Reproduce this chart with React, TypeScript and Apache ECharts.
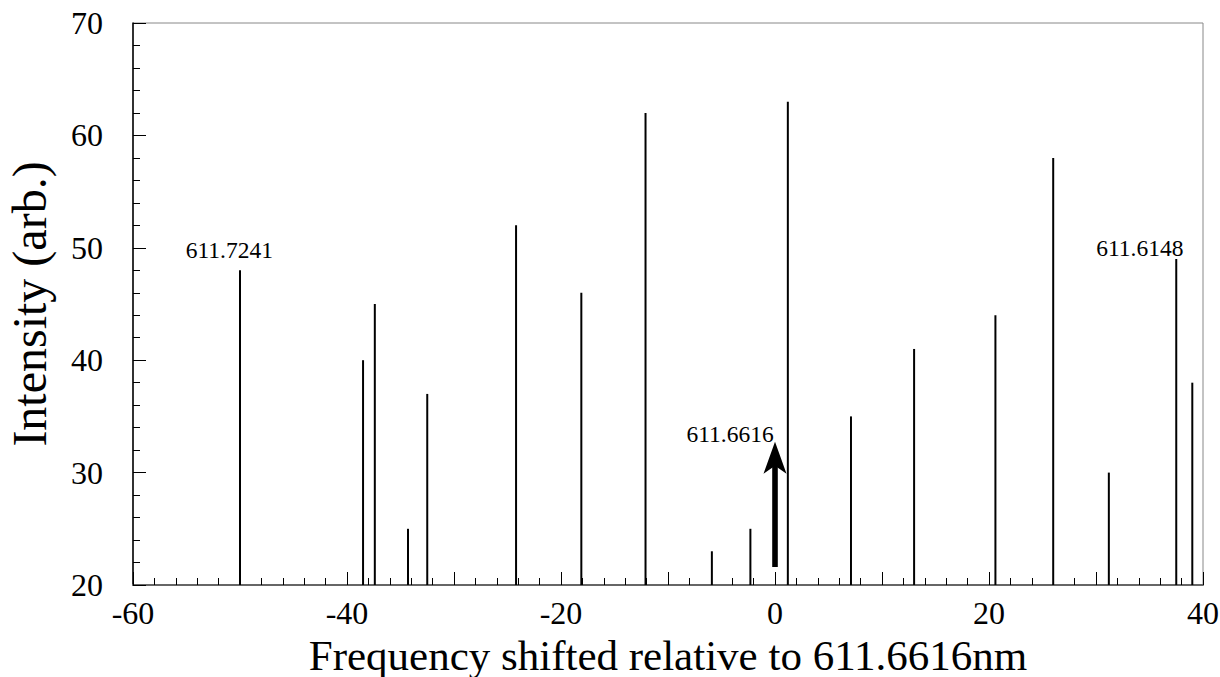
import React, { useEffect, useRef } from "react";
import * as echarts from "echarts";

// Line positions (frequency shift) and their intensities
const lineShift = [-50, -38.5, -37.4, -34.3, -32.5, -24.2, -18.1, -12.1, -5.9, -2.3, 1.2, 7.1, 13.0, 20.6, 26.0, 31.2, 37.5, 39.0];
const lineIntensity = [48, 40, 45, 25, 37, 52, 46, 62, 23, 25, 63, 35, 41, 44, 58, 30, 49, 38];

// Wavelength annotations: position (shift, intensity) and text
const noteShift = [-51.0, 34.1, -4.2];
const noteIntensity = [49.8, 50.0, 33.4];
const noteText = ["611.7241", "611.6148", "611.6616"];

// Reference arrow at zero shift: [shift, from, to]
const arrowData = [[0, 21.6, 32.75]];

const BASE = 20;
const SERIF = "Liberation Serif";

export default function App() {
  const ref = useRef<HTMLDivElement>(null);

  useEffect(() => {
    if (!ref.current) return;
    const chart = echarts.init(ref.current, null, { renderer: "svg" });

    const option: any = {
      animation: false,
      backgroundColor: "#fff",
      grid: {
        left: 133,
        right: 17,
        top: 23,
        bottom: 92,
        outerBoundsMode: "none",
        containLabel: false,
        show: true,
        borderColor: "#888",
        borderWidth: 1,
      },
      xAxis: {
        type: "value",
        min: -60,
        max: 40,
        interval: 10,
        name: "Frequency shifted relative to 611.6616nm",
        nameLocation: "middle",
        nameGap: 43,
        nameTextStyle: { fontFamily: SERIF, fontSize: 43, lineHeight: 43, color: "#000" },
        axisLine: { onZero: false, lineStyle: { color: "#666", width: 2 } },
        axisTick: { inside: true, length: 13, lineStyle: { color: "#000", width: 1 } },
        minorTick: { show: true, splitNumber: 5, length: 7, lineStyle: { color: "#000", width: 1 } },
        splitLine: { show: false },
        axisLabel: {
          fontFamily: SERIF,
          fontSize: 32,
          color: "#000",
          margin: 12,
          formatter: (v: number) => (v % 20 === 0 ? String(v) : ""),
        },
      },
      yAxis: {
        type: "value",
        min: 20,
        max: 70,
        interval: 10,
        name: "Intensity (arb.)",
        nameLocation: "middle",
        nameGap: 80,
        nameTextStyle: { fontFamily: SERIF, fontSize: 48, color: "#000" },
        axisLine: { onZero: false, lineStyle: { color: "#000", width: 1.5 } },
        axisTick: { inside: true, length: 13, lineStyle: { color: "#000", width: 1 } },
        minorTick: { show: true, splitNumber: 5, length: 7, lineStyle: { color: "#000", width: 1 } },
        splitLine: { show: false },
        axisLabel: { fontFamily: SERIF, fontSize: 32, color: "#000", margin: 30 },
      },
      series: [
        {
          type: "custom",
          clip: true,
          data: lineShift.map((x, i) => [x, lineIntensity[i]]),
          renderItem: (_p: any, api: any) => {
            const p0 = api.coord([api.value(0), BASE]);
            const p1 = api.coord([api.value(0), api.value(1)]);
            return {
              type: "line",
              shape: { x1: p0[0], y1: p0[1], x2: p1[0], y2: p1[1] },
              style: { stroke: "#000", lineWidth: 2 },
            };
          },
        },
        {
          type: "custom",
          data: arrowData,
          renderItem: (_p: any, api: any) => {
            const bottom = api.coord([api.value(0), api.value(1)]);
            const tip = api.coord([api.value(0), api.value(2)]);
            const headLen = 32;
            const notch = 8;
            const halfHead = 11.5;
            const halfShaft = 2.8;
            const cx = tip[0];
            const shaftTop = tip[1] + headLen - notch - 1;
            return {
              type: "group",
              children: [
                {
                  type: "rect",
                  shape: { x: cx - halfShaft, y: shaftTop, width: halfShaft * 2, height: bottom[1] - shaftTop },
                  style: { fill: "#000" },
                },
                {
                  type: "polygon",
                  shape: {
                    points: [
                      [cx, tip[1]],
                      [cx + halfHead, tip[1] + headLen],
                      [cx, tip[1] + headLen - notch],
                      [cx - halfHead, tip[1] + headLen],
                    ],
                  },
                  style: { fill: "#000" },
                },
              ],
            };
          },
        },
        {
          type: "custom",
          data: noteShift.map((x, i) => [x, noteIntensity[i]]),
          renderItem: (p: any, api: any) => {
            const pt = api.coord([api.value(0), api.value(1)]);
            return {
              type: "text",
              x: pt[0],
              y: pt[1],
              style: {
                text: noteText[p.dataIndex],
                fontFamily: SERIF,
                fontSize: 23.5,
                fill: "#000",
                align: "center",
                verticalAlign: "middle",
              },
            };
          },
        },
      ],
    };

    chart.setOption(option);
    return () => chart.dispose();
  }, []);

  return (
    <div
      ref={ref}
      style={{ position: "fixed", left: 0, top: 0, width: 1220, height: 677, background: "#fff" }}
    />
  );
}
